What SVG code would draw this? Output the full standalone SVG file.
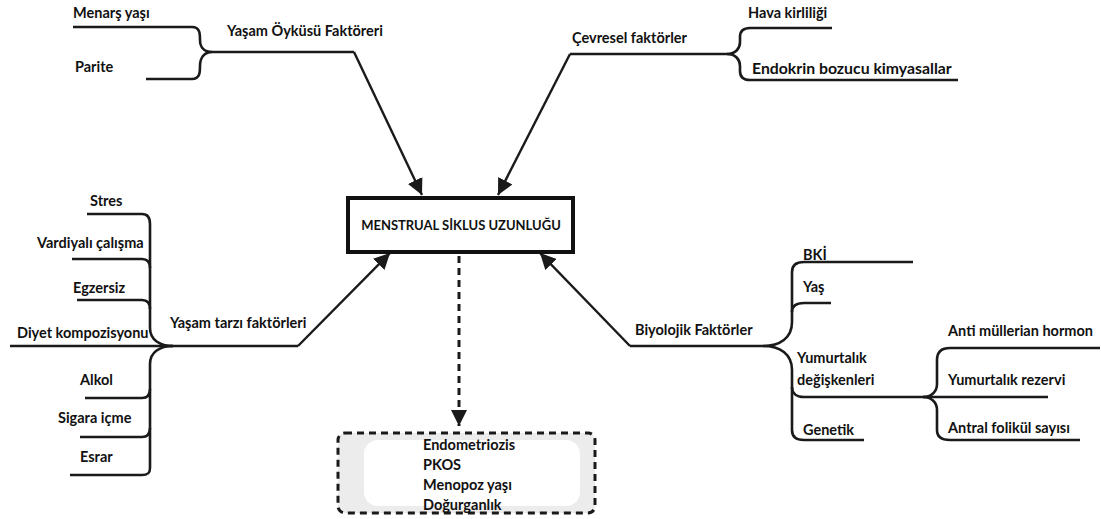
<svg xmlns="http://www.w3.org/2000/svg" width="1101" height="519" viewBox="0 0 1101 519">
<style>
  text { font-family: Lato, "Liberation Sans", sans-serif; font-weight: bold; font-size: 14.5px; fill: #111; }
  .ln { fill: none; stroke: #1a1a1a; stroke-width: 2.6; stroke-linecap: butt; stroke-linejoin: round; }
  .ar { fill: none; stroke: #1a1a1a; stroke-width: 2.4; }
  .dash { fill: none; stroke: #1a1a1a; stroke-width: 3; stroke-dasharray: 7 5; }
</style>
<defs>
  <marker id="ah" markerUnits="userSpaceOnUse" markerWidth="18" markerHeight="16" refX="16" refY="8" orient="auto">
    <path d="M0,0 L16,8 L0,16 Z" fill="#1a1a1a"/>
  </marker>
</defs>
<rect width="1101" height="519" fill="#fff"/>

<g id="connectors">
  <line class="ar" x1="354" y1="52" x2="422" y2="195" marker-end="url(#ah)"/>
  <line class="ar" x1="570" y1="54" x2="498" y2="195" marker-end="url(#ah)"/>
  <line class="ar" x1="298" y1="346" x2="390" y2="253" marker-end="url(#ah)"/>
  <line class="ar" x1="630" y1="346" x2="540" y2="253" marker-end="url(#ah)"/>
  <line class="dash" x1="459" y1="256" x2="459" y2="426" marker-end="url(#ah)"/>
</g>

<g id="center">
  <rect x="348" y="198" width="225" height="54" fill="#fff" stroke="#111" stroke-width="4"/>
  <text x="461" y="230" text-anchor="middle" style="font-size:13px">MENSTRUAL SİKLUS UZUNLUĞU</text>
</g>

<g id="yasam-oykusu">
  <path class="ln" d="M73,27 H192 C200,27 200,34 200,40 C200,47 204,52 212,52 H354"/>
  <path class="ln" d="M146,79 H192 C200,79 200,72 200,66 C200,58 204,52 212,52"/>
  <text x="73" y="18">Menarş yaşı</text>
  <text x="75" y="72">Parite</text>
  <text x="227" y="36">Yaşam Öyküsü Faktöreri</text>
</g>

<g id="cevresel">
  <path class="ln" d="M570,54 H727 C736,54 740,48 740,42 V37 C740,31 743,28 750,28 H832"/>
  <path class="ln" d="M727,54 C736,54 740,60 740,66 V71 C740,77 743,80 750,80 H958"/>
  <text x="572" y="43">Çevresel faktörler</text>
  <text x="748" y="18">Hava kirliliği</text>
  <text x="752" y="74" style="font-size:15.8px">Endokrin bozucu kimyasallar</text>
</g>

<g id="yasam-tarzi">
  <path class="ln" d="M87,214 H142 C148,214 150,218 150,224 V328 C150,340 160,346 173,346 H298"/>
  <path class="ln" d="M72,259 H142 C148,259 150,263 150,268"/>
  <path class="ln" d="M77,300 H142 C148,300 150,304 150,309"/>
  <path class="ln" d="M10,346 H173"/>
  <path class="ln" d="M173,346 C160,346 150,352 150,364 V468 C150,473 148,475 142,475 H70"/>
  <path class="ln" d="M85,398 H142 C148,398 150,394 150,389"/>
  <path class="ln" d="M80,437 H142 C148,437 150,433 150,428"/>
  <text x="90" y="206">Stres</text>
  <text x="37" y="248">Vardiyalı çalışma</text>
  <text x="73" y="293">Egzersiz</text>
  <text x="17" y="338">Diyet kompozisyonu</text>
  <text x="170" y="328">Yaşam tarzı faktörleri</text>
  <text x="80" y="385">Alkol</text>
  <text x="58" y="423">Sigara içme</text>
  <text x="80" y="462">Esrar</text>
</g>

<g id="biyolojik">
  <path class="ln" d="M630,346 H763 C780,346 792,338 792,322 V272 C792,265 796,262 804,262 H913"/>
  <path class="ln" d="M792,312 C792,306 796,303 804,303 H831"/>
  <path class="ln" d="M763,346 C780,346 792,354 792,370 V430 C792,437 796,440 804,440 H864"/>
  <path class="ln" d="M792,387 C792,393 796,397 804,397 H923"/>
  <text x="635" y="335">Biyolojik Faktörler</text>
  <text x="803" y="260">BKİ</text>
  <text x="803" y="292">Yaş</text>
  <text x="797" y="363">Yumurtalık</text>
  <text x="797" y="385">değişkenleri</text>
  <text x="803" y="435">Genetik</text>
</g>

<g id="yumurtalik">
  <path class="ln" d="M923,397 C931,397 937,392 937,384 V360 C937,352 941,348 950,348 H1100"/>
  <path class="ln" d="M923,397 H1048"/>
  <path class="ln" d="M923,397 C931,397 937,402 937,410 V430 C937,437 941,440 950,440 H1080"/>
  <text x="948" y="336">Anti müllerian hormon</text>
  <text x="948" y="385">Yumurtalık rezervi</text>
  <text x="948" y="433">Antral folikül sayısı</text>
</g>

<g id="diger">
  <rect x="338" y="433" width="257" height="80" rx="7" fill="#ececec"/>
  <rect x="364" y="440" width="216" height="66" rx="14" fill="#fff"/>
  <rect x="338" y="433" width="257" height="80" rx="7" class="dash"/>
  <text x="423" y="450">Endometriozis</text>
  <text x="423" y="470">PKOS</text>
  <text x="423" y="490">Menopoz yaşı</text>
  <text x="423" y="510">Doğurganlık</text>
</g>
</svg>
